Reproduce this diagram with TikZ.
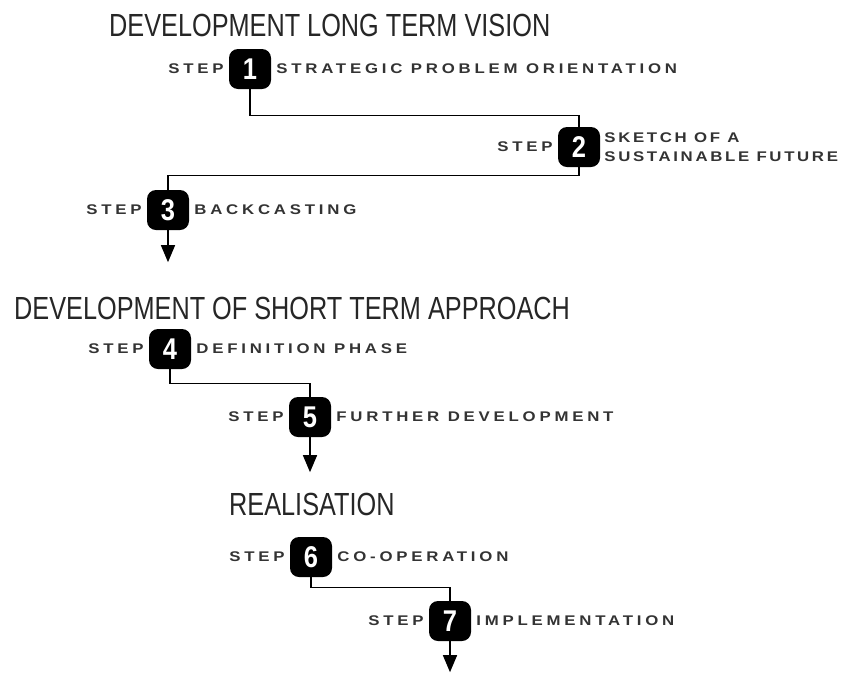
\documentclass[tikz,border=0pt]{standalone}
\usepackage{fontspec}
\setmainfont{Liberation Sans}
\newfontfamily\headfont[FakeStretch=0.79]{Liberation Sans}
\newfontfamily\stepfont[FakeStretch=1.2,LetterSpace=27]{Liberation Sans}
\newfontfamily\steptight[FakeStretch=1.2,LetterSpace=19]{Liberation Sans}
\newfontfamily\numfont[FakeStretch=0.85]{Liberation Sans}
\usetikzlibrary{positioning, arrows.meta}

\begin{document}
\begin{tikzpicture}[x=1pt, y=-1pt, node distance=5pt,
    badge/.style={fill=black, rounded corners=9pt, minimum width=42pt, minimum height=40pt,
        inner sep=0pt, text=white, font=\numfont\bfseries\fontsize{30}{30}\selectfont},
    steplbl/.style={inner sep=0pt, text=black!80, font=\stepfont\bfseries\fontsize{14}{19}\selectfont},
    heading/.style={inner sep=0pt, anchor=west, text=black!85, font=\headfont\fontsize{32}{32}\selectfont},
    flow/.style={draw, line width=1.4pt},
    tip/.style={-{Triangle[width=14pt, length=17pt]}}]
    \useasboundingbox (0,0) rectangle (845,673);

    % long term vision
    \node[heading] (h1) at (109,25) {DEVELOPMENT LONG TERM VISION};
    \node[badge] (s1) at (250,69) {1};
    \node[badge] (s2) at (579,147) {2};
    \node[badge] (s3) at (168,210) {3};
    \node[steplbl, left=of s1] (l1) {STEP};
    \node[steplbl, right=of s1] (t1) {STRATEGIC PROBLEM ORIENTATION};
    \node[steplbl, left=of s2] (l2) {STEP};
    \node[steplbl, right=4pt of s2, align=left,
        font=\steptight\bfseries\fontsize{14}{19}\selectfont] (t2) {SKETCH OF A\\SUSTAINABLE FUTURE};
    \node[steplbl, left=of s3] (l3) {STEP};
    \node[steplbl, right=of s3] (t3) {BACKCASTING};
    \coordinate[below=32pt of s3.south] (a3);

    % short term approach
    \node[heading] (h2) at (14,308) {DEVELOPMENT OF SHORT TERM APPROACH};
    \node[badge] (s4) at (170,349) {4};
    \node[badge] (s5) at (310,417) {5};
    \node[steplbl, left=of s4] (l4) {STEP};
    \node[steplbl, right=of s4] (t4) {DEFINITION PHASE};
    \node[steplbl, left=of s5] (l5) {STEP};
    \node[steplbl, right=of s5] (t5) {FURTHER DEVELOPMENT};
    \coordinate[below=35pt of s5.south] (a5);

    % realisation
    \node[heading] (h3) at (229,504) {REALISATION};
    \node[badge] (s6) at (311,557) {6};
    \node[badge] (s7) at (450,621) {7};
    \node[steplbl, left=of s6] (l6) {STEP};
    \node[steplbl, right=of s6] (t6) {CO-OPERATION};
    \node[steplbl, left=of s7] (l7) {STEP};
    \node[steplbl, right=of s7] (t7) {IMPLEMENTATION};
    \coordinate[below=31pt of s7.south] (a7);

    \path[flow]
    (s1.south) -- ++(0,26) -| (s2.north)
    (s2.south) -- ++(0,8) -| (s3.north)
    (s4.south) -- ++(0,14) -| (s5.north)
    (s6.south) -- ++(0,10) -| (s7.north);

    \path[flow, tip] (s3.south) -- (a3);
    \path[flow, tip] (s5.south) -- (a5);
    \path[flow, tip] (s7.south) -- (a7);
\end{tikzpicture}
\end{document}
